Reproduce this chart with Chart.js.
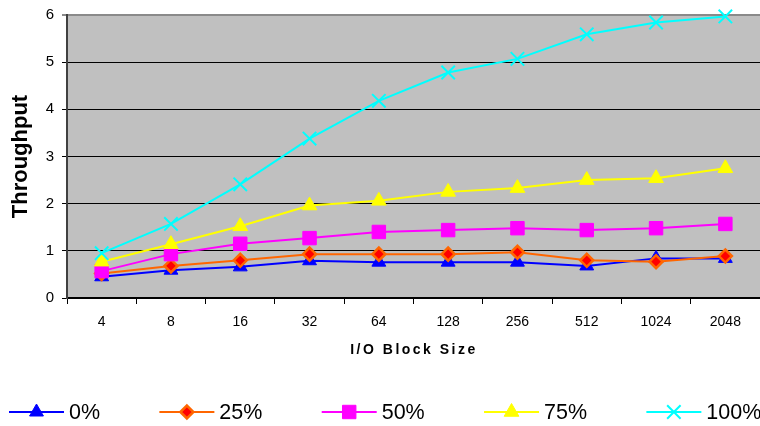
<!DOCTYPE html>
<html>
<head>
<meta charset="utf-8">
<script src="https://cdn.jsdelivr.net/npm/chart.js@4.4.0/dist/chart.umd.min.js"></script>
<style>
html,body{margin:0;padding:0;background:#fff;}
#wrap{width:760px;height:426px;position:relative;}
</style>
</head>
<body>
<div id="wrap"><canvas id="c" width="760" height="426"></canvas></div>
<script>
const categories = ['4','8','16','32','64','128','256','512','1024','2048'];
const seriesNames = ['0%','25%','50%','75%','100%'];
const s0   = [0.45,0.59,0.66,0.79,0.76,0.76,0.76,0.68,0.84,0.84];
const s25  = [0.52,0.68,0.80,0.93,0.93,0.93,0.97,0.80,0.77,0.89];
const s50  = [0.57,0.93,1.15,1.27,1.40,1.44,1.48,1.44,1.48,1.57];
const s75  = [0.77,1.14,1.52,1.96,2.06,2.25,2.33,2.50,2.54,2.75];
const s100 = [0.95,1.57,2.41,3.38,4.18,4.78,5.07,5.59,5.84,5.97];
const yTicks = [0,1,2,3,4,5,6];

const styles = [
  {line:'#0000FF', fill:'#0000FF', border:'#0000FF', pt:'triangle', r:8, bw:1},
  {line:'#FF6600', fill:'#FF0000', border:'#FF6600', pt:'rectRot', r:6.5, bw:2.5},
  {line:'#FF00FF', fill:'#FF00FF', border:'#FF00FF', pt:'rect', r:9.5, bw:1},
  {line:'#FFFF00', fill:'#FFFF00', border:'#FFFF00', pt:'triangle', r:8.5, bw:1},
  {line:'#00FFFF', fill:'#00FFFF', border:'#00FFFF', pt:'crossRot', r:9.5, bw:2}
];
const values = [s0,s25,s50,s75,s100];

const datasets = values.map((v,i)=>({
  label: seriesNames[i],
  data: v,
  borderColor: styles[i].line,
  borderWidth: 2,
  backgroundColor: styles[i].fill,
  pointStyle: styles[i].pt,
  pointRadius: styles[i].r,
  pointHoverRadius: styles[i].r,
  pointBackgroundColor: styles[i].fill,
  pointBorderColor: styles[i].border,
  pointBorderWidth: styles[i].bw,
  tension: 0,
  fill: false,
  clip: false,
  order: values.length - i
}));

const plotBg = {
  id:'plotBg',
  beforeDraw(chart){
    const {ctx, chartArea:a} = chart;
    ctx.save();
    ctx.fillStyle = '#C0C0C0';
    ctx.fillRect(a.left, a.top, a.right-a.left, a.bottom-a.top);
    ctx.restore();
  }
};

const extras = {
  id:'extras',
  afterDraw(chart){
    const ctx = chart.ctx;
    ctx.save();
    ctx.font = 'bold 14px "Liberation Sans", Arial, sans-serif';
    ctx.fillStyle = '#000';
    ctx.textBaseline = 'middle';
    ctx.textAlign = 'center';
    try { ctx.letterSpacing = '2.5px'; } catch(e){}
    ctx.fillText('I/O Block Size', 414, 350);
    try { ctx.letterSpacing = '0px'; } catch(e){}
    ctx.font = '21.5px "Liberation Sans", Arial, sans-serif';
    ctx.textAlign = 'left';
    let x = 9;
    const y = 412;
    chart.data.datasets.forEach((ds, i) => {
      const lineW = 55;
      ctx.strokeStyle = ds.borderColor;
      ctx.lineWidth = 2;
      ctx.beginPath();
      ctx.moveTo(x, y); ctx.lineTo(x+lineW, y);
      ctx.stroke();
      ctx.fillStyle = ds.pointBackgroundColor;
      ctx.strokeStyle = ds.pointBorderColor;
      ctx.lineWidth = ds.pointBorderWidth;
      Chart.helpers.drawPoint(ctx, {pointStyle: ds.pointStyle, radius: ds.pointRadius, rotation: 0, borderWidth: ds.pointBorderWidth}, x + lineW/2, y);
      ctx.fillStyle = '#000';
      const tx = x + lineW + 5;
      ctx.fillText(ds.label, tx, y + 1);
      x = tx + ctx.measureText(ds.label).width + 59.3;
    });
    ctx.restore();
  }
};

new Chart(document.getElementById('c'), {
  type: 'line',
  data: { labels: categories, datasets },
  options: {
    responsive: false,
    animation: false,
    devicePixelRatio: 1,
    layout: { autoPadding: false, padding: { left: 0, right: 0, top: 15, bottom: 58 } },
    plugins: { legend: { display: false }, tooltip: { enabled: false } },
    scales: {
      x: {
        type: 'category',
        offset: true,
        afterFit(scale){ scale.height = 70; scale.paddingLeft = 0; scale.paddingRight = 0; },
        grid: { offset: true, drawOnChartArea: false, drawTicks: true, tickLength: 6, color: '#000', lineWidth: 1 },
        border: { color: '#000', width: 1.5 },
        ticks: { color: '#000', font: { family: '"Liberation Sans", Arial, sans-serif', size: 14 }, padding: 10, maxRotation: 0, autoSkip: false },
        title: { display: false }
      },
      y: {
        min: 0, max: 6,
        afterFit(scale){ scale.width = 67; scale.paddingTop = 0; scale.paddingBottom = 0; },
        afterBuildTicks(scale){ scale.ticks = yTicks.map(v => ({value: v})); },
        grid: {
          color: (c) => (c.tick && c.tick.value === 6) ? '#8a8a8a' : '#000',
          lineWidth: (c) => (c.tick && c.tick.value === 6) ? 2 : 1,
          tickLength: 5,
          drawTicks: true
        },
        border: { color: '#404040', width: 2 },
        ticks: { color: '#000', font: { family: '"Liberation Sans", Arial, sans-serif', size: 15 }, padding: 8 },
        title: { display: true, text: 'Throughput', color: '#000', font: { family: '"Liberation Sans", Arial, sans-serif', size: 22, weight: 'bold' }, padding: { top: 8, bottom: 0 } }
      }
    }
  },
  plugins: [plotBg, extras]
});
</script>
</body>
</html>
